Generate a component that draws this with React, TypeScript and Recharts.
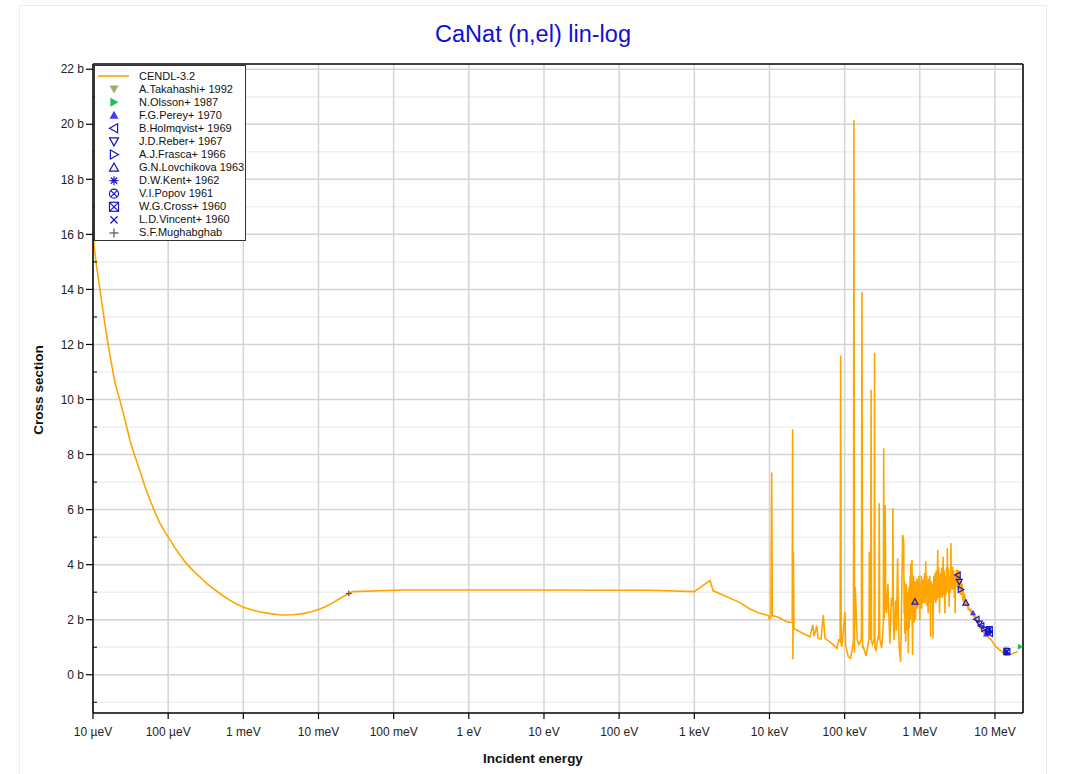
import { ComposedChart, Line, Scatter, XAxis, YAxis, CartesianGrid } from "recharts"

type Pt = [number, number]

// x in eV, y in barns
const X_TICKS = [1e-5, 1e-4, 1e-3, 1e-2, 1e-1, 1, 10, 100, 1e3, 1e4, 1e5, 1e6, 1e7]
const X_TICK_LABELS = [
  "10 µeV", "100 µeV", "1 meV", "10 meV", "100 meV", "1 eV",
  "10 eV", "100 eV", "1 keV", "10 keV", "100 keV", "1 MeV", "10 MeV",
]
const Y_TICKS = [-1, 0, 1, 2, 3, 4, 5, 6, 7, 8, 9, 10, 11, 12, 13, 14, 15, 16, 17, 18, 19, 20, 21, 22]
const Y_MAJOR = [0, 2, 4, 6, 8, 10, 12, 14, 16, 18, 20, 22]
const Y_MINOR = [-1, 1, 3, 5, 7, 9, 11, 13, 15, 17, 19, 21]
const X_DOMAIN: [number, number] = [1e-5, 2.36e7]
const Y_DOMAIN: [number, number] = [-1.39, 22.19]

// CENDL-3.2, thermal + smooth part (eV, b)
const cendlThermal: Pt[] = [
  [1e-5, 16.2], [1.031e-5, 15.6], [1.12e-5, 14.8], [1.239e-5, 14.0], [1.444e-5, 12.7],
  [1.683e-5, 11.6], [1.962e-5, 10.6], [2.29e-5, 9.95], [2.7e-5, 9.2], [3.11e-5, 8.5],
  [3.6e-5, 7.95], [4.22e-5, 7.4], [4.9e-5, 6.85], [5.73e-5, 6.35], [6.7e-5, 5.9],
  [7.79e-5, 5.5], [9.1e-5, 5.18], [1.058e-4, 4.9], [1.24e-4, 4.6], [1.437e-4, 4.35],
  [1.68e-4, 4.1], [1.95e-4, 3.9], [2.27e-4, 3.72], [2.65e-4, 3.55], [3.3e-4, 3.3],
  [4.2e-4, 3.08], [5.3e-4, 2.88], [6.65e-4, 2.7], [8.2e-4, 2.56], [1.0e-3, 2.45],
  [1.28e-3, 2.36], [1.667e-3, 2.28], [2.3e-3, 2.22], [3.0e-3, 2.18], [3.58e-3, 2.17],
  [4.6e-3, 2.18], [6.22e-3, 2.22], [8.0e-3, 2.29], [9.84e-3, 2.36], [1.25e-2, 2.48],
  [1.56e-2, 2.62], [1.95e-2, 2.78], [2.55e-2, 2.96], [2.88e-2, 3.02], [0.133, 3.08],
  [2.6, 3.08], [257, 3.07], [1000, 3.02], [1614, 3.42], [1786, 3.05], [2404, 2.9],
  [4049, 2.62],
]

// resolved resonances (eV, b)
const cendlResonances: Pt[] = [
  [5.5e3, 2.39], [7.47e3, 2.23], [9.64e3, 2.15], [1.0e4, 2.01], [1.047e4, 2.1],
  [1.07e4, 7.35], [1.093e4, 2.15], [1.31e4, 2.09], [1.695e4, 1.93], [1.917e4, 1.9],
  [2.007e4, 1.9], [2.03e4, 8.92], [2.05e4, 0.56], [2.08e4, 4.47], [2.12e4, 1.7],
  [2.19e4, 1.65], [2.82e4, 1.5], [3.46e4, 1.38], [3.76e4, 1.81], [3.92e4, 1.4],
  [4.26e4, 1.77], [4.43e4, 1.32], [4.85e4, 1.3], [5.2e4, 2.17], [5.48e4, 1.32],
  [6.74e4, 1.14], [7.86e4, 0.96], [8.33e4, 1.26], [8.7e4, 1.2], [8.85e4, 11.6],
  [9.0e4, 1.1], [9.2e4, 1.02], [1.01e5, 2.29], [1.03e5, 1.1], [1.04e5, 1.02],
  [1.117e5, 0.65], [1.2e5, 0.6], [1.31e5, 1.2], [1.33e5, 20.15], [1.35e5, 0.8],
  [1.385e5, 3.2], [1.47e5, 1.26], [1.55e5, 1.1], [1.67e5, 1.3], [1.7e5, 13.9],
  [1.73e5, 1.0], [1.77e5, 1.02], [1.93e5, 0.68], [2.11e5, 1.3], [2.13e5, 4.47],
  [2.16e5, 1.3], [2.22e5, 1.3], [2.25e5, 10.35], [2.28e5, 1.2], [2.35e5, 1.1],
  [2.47e5, 1.3], [2.5e5, 11.7], [2.53e5, 1.0], [2.61e5, 0.9], [2.85e5, 1.5],
  [2.88e5, 6.23], [2.93e5, 1.3], [3.11e5, 0.97], [3.27e5, 1.8], [3.31e5, 8.23],
  [3.35e5, 2.0], [3.4e5, 3.0], [3.46e5, 6.17], [3.53e5, 2.4], [3.62e5, 2.23],
  [3.76e5, 3.3], [4.0e5, 1.14], [4.19e5, 2.8], [4.33e5, 2.5], [4.39e5, 6.05],
  [4.44e5, 2.0], [4.56e5, 1.26], [4.73e5, 2.7], [4.88e5, 1.6], [5.07e5, 4.23],
  [5.19e5, 2.0], [5.32e5, 1.0], [5.55e5, 0.47], [5.73e5, 2.6], [5.9e5, 5.08],
  [6.09e5, 4.9],
]

// unresolved / continuum (MeV, b)
const cendlContinuum: Pt[] = [
  [0.62, 2.2], [0.626, 3.4], [0.631, 1.5], [0.637, 2.6], [0.643, 3.0], [0.649, 1.2],
  [0.655, 1.9], [0.661, 3.3], [0.667, 2.96], [0.673, 1.8], [0.679, 1.6], [0.686, 3.0],
  [0.692, 2.4], [0.699, 1.4], [0.705, 0.78], [0.712, 2.6], [0.718, 3.2], [0.725, 1.7],
  [0.731, 2.1], [0.738, 3.3], [0.745, 3.6], [0.752, 2.0], [0.759, 4.05], [0.766, 2.6],
  [0.773, 2.3], [0.78, 3.5], [0.787, 4.17], [0.795, 1.8], [0.802, 0.72], [0.81, 2.9],
  [0.817, 2.5], [0.825, 3.6], [0.832, 3.1], [0.84, 1.9], [0.847, 2.2], [0.855, 3.4],
  [0.863, 2.96], [0.871, 2.3], [0.879, 2.0], [0.887, 3.4], [0.895, 3.3], [0.904, 2.4],
  [0.912, 2.6], [0.92, 3.5], [0.929, 2.4], [0.938, 2.9], [0.946, 3.5], [0.955, 2.5],
  [0.964, 2.7], [0.973, 3.6], [0.982, 3.2], [0.991, 2.5], [1.0, 1.99], [1.009, 3.1],
  [1.018, 2.9], [1.028, 2.5], [1.037, 3.3], [1.046, 3.6], [1.056, 2.4], [1.066, 2.8],
  [1.076, 3.0], [1.086, 2.6], [1.096, 3.44], [1.106, 2.9], [1.116, 2.6], [1.127, 3.5],
  [1.137, 3.1], [1.148, 2.7], [1.158, 3.7], [1.169, 2.6], [1.179, 2.8], [1.19, 3.4],
  [1.201, 4.11], [1.212, 2.9], [1.223, 3.0], [1.235, 3.6], [1.246, 2.5], [1.258, 2.9],
  [1.269, 3.3], [1.281, 2.7], [1.293, 2.23], [1.305, 3.5], [1.317, 3.2], [1.329, 2.6],
  [1.341, 2.7], [1.354, 3.6], [1.366, 3.4], [1.378, 2.5], [1.391, 1.38], [1.404, 3.1],
  [1.417, 2.8], [1.43, 3.4], [1.443, 2.6], [1.457, 2.9], [1.47, 3.3], [1.484, 2.4],
  [1.497, 1.32], [1.511, 2.8], [1.525, 3.0], [1.539, 3.6], [1.553, 3.5], [1.568, 2.7],
  [1.582, 2.96], [1.597, 3.7], [1.611, 3.4], [1.626, 2.6], [1.641, 2.8], [1.656, 3.8],
  [1.671, 3.6], [1.687, 2.7], [1.702, 3.0], [1.718, 3.9], [1.734, 4.53], [1.75, 2.8],
  [1.766, 3.1], [1.783, 3.9], [1.799, 3.6], [1.816, 2.9], [1.832, 2.23], [1.849, 3.5],
  [1.866, 3.3], [1.883, 2.8], [1.9, 3.7], [1.918, 3.2], [1.935, 2.9], [1.953, 3.9],
  [1.971, 3.6], [1.99, 2.8], [2.008, 3.2], [2.027, 3.8], [2.045, 4.29], [2.064, 2.9],
  [2.083, 3.1], [2.102, 3.8], [2.121, 3.5], [2.141, 2.8], [2.16, 2.23], [2.18, 3.6],
  [2.2, 3.4], [2.221, 2.9], [2.241, 3.0], [2.262, 3.9], [2.283, 3.8], [2.304, 3.0],
  [2.325, 4.6], [2.347, 3.1], [2.368, 3.2], [2.39, 3.9], [2.412, 3.6], [2.434, 2.9],
  [2.457, 2.47], [2.48, 3.6], [2.502, 3.5], [2.525, 3.0], [2.548, 3.0], [2.572, 3.9],
  [2.595, 4.79], [2.619, 3.1], [2.643, 3.4], [2.668, 3.9], [2.692, 3.8], [2.717, 3.1],
  [2.742, 3.93], [2.768, 3.3], [2.793, 3.1], [2.819, 3.8], [2.845, 3.6], [2.871, 3.0],
  [2.898, 2.8], [2.924, 3.6], [2.951, 2.23], [2.978, 3.5], [3.006, 3.4], [3.034, 3.2],
  [3.062, 3.81], [3.09, 3.3], [3.118, 3.2], [3.147, 3.8], [3.176, 3.6], [3.205, 3.1],
  [3.235, 3.3], [3.265, 3.8], [3.295, 3.69], [3.325, 3.2], [3.356, 3.1], [3.387, 3.6],
  [3.418, 3.5], [3.45, 3.0], [3.481, 2.9], [3.514, 3.4], [3.546, 3.3], [3.579, 2.9],
  [3.612, 3.0], [3.645, 3.3], [3.679, 3.2], [3.713, 2.8], [3.747, 2.7], [3.781, 3.1],
  [3.816, 3.0], [3.851, 2.7], [3.887, 2.6], [3.923, 2.9], [3.959, 2.9], [3.995, 2.6],
  [4.032, 2.5], [4.1, 2.75], [4.19, 2.5], [4.3, 2.6], [4.41, 2.35], [4.52, 2.45],
  [4.64, 2.3], [4.76, 2.4], [4.89, 2.2], [5.01, 2.3], [5.13, 2.15], [5.27, 2.2],
  [5.41, 2.05], [5.55, 2.1], [5.68, 1.95], [5.84, 2.0], [5.99, 1.8], [6.15, 1.85],
  [6.3, 1.72], [6.47, 1.75], [6.64, 1.6], [6.88, 1.6], [7.13, 1.5], [7.43, 1.5],
  [7.74, 1.4], [8.02, 1.42], [8.31, 1.33], [8.65, 1.3], [9.02, 1.25], [9.5, 1.15],
  [10.0, 1.05], [10.5, 1.0], [11.3, 0.92], [12.3, 0.84], [13.0, 0.78], [13.6, 0.73],
  [14.3, 0.74], [15.0, 0.72], [16.0, 0.74], [17.5, 0.78], [19.0, 0.82], [20.0, 0.84],
]

// EXFOR points (eV, b)
const takahashi: Pt[] = [[1.41e7, 0.93]]
const olsson: Pt[] = [[2.17e7, 1.02]]
const perey: Pt[] = [[5.1e6, 2.25], [7.6e6, 1.48]]
const holmqvist: Pt[] = [[3.2e6, 3.62], [5.7e6, 2.02], [6.6e6, 1.78], [7.9e6, 1.62], [8.6e6, 1.5]]
const reber: Pt[] = [[3.35e6, 3.38], [6.2e6, 1.86]]
const frasca: Pt[] = [[3.5e6, 3.1], [7.2e6, 1.68]]
const lovchikova: Pt[] = [[8.6e5, 2.65], [4.1e6, 2.62]]
const kent: Pt[] = [[1.4e7, 0.8]]
const popov: Pt[] = [[8.1e6, 1.56]]
const cross: Pt[] = [[8.4e6, 1.64], [1.44e7, 0.84]]
const vincent: Pt[] = [[1.41e7, 0.82]]
const mughabghab: Pt[] = [[0.0253, 2.95]]

const toRows = (pts: Pt[], scale = 1) => pts.map(([e, s]) => ({ e: e * scale, s }))

const cendl = [
  ...toRows(cendlThermal),
  ...toRows(cendlResonances),
  ...toRows(cendlContinuum, 1e6),
]

const ORANGE = "#FFA500"
const NAVY = "#1515c8"

const EXP = [
  { name: "A.Takahashi+ 1992", kind: "tdownF", color: "#aca86a", data: takahashi },
  { name: "N.Olsson+ 1987", kind: "trightF", color: "#1fbf55", data: olsson },
  { name: "F.G.Perey+ 1970", kind: "tupF", color: "#3a3aff", data: perey },
  { name: "B.Holmqvist+ 1969", kind: "tleft", color: NAVY, data: holmqvist },
  { name: "J.D.Reber+ 1967", kind: "tdown", color: NAVY, data: reber },
  { name: "A.J.Frasca+ 1966", kind: "tright", color: NAVY, data: frasca },
  { name: "G.N.Lovchikova 1963", kind: "tup", color: NAVY, data: lovchikova },
  { name: "D.W.Kent+ 1962", kind: "star", color: NAVY, data: kent },
  { name: "V.I.Popov 1961", kind: "circlex", color: NAVY, data: popov },
  { name: "W.G.Cross+ 1960", kind: "squarex", color: NAVY, data: cross },
  { name: "L.D.Vincent+ 1960", kind: "x", color: NAVY, data: vincent },
  { name: "S.F.Mughabghab", kind: "plus", color: "#555555", data: mughabghab },
]

function Marker({ kind, color, cx, cy, s = 4.5 }: { kind: string; color: string; cx: number; cy: number; s?: number }) {
  const sw = 1.2
  const open = { fill: "none", stroke: color, strokeWidth: sw }
  switch (kind) {
    case "tdownF":
      return <polygon points={`${cx - s},${cy - s * 0.8} ${cx + s},${cy - s * 0.8} ${cx},${cy + s}`} fill={color} />
    case "trightF":
      return <polygon points={`${cx - s * 0.8},${cy - s} ${cx - s * 0.8},${cy + s} ${cx + s},${cy}`} fill={color} />
    case "tupF":
      return <polygon points={`${cx - s},${cy + s * 0.8} ${cx + s},${cy + s * 0.8} ${cx},${cy - s}`} fill={color} />
    case "tleft":
      return <polygon points={`${cx + s * 0.8},${cy - s} ${cx + s * 0.8},${cy + s} ${cx - s},${cy}`} {...open} />
    case "tdown":
      return <polygon points={`${cx - s},${cy - s * 0.8} ${cx + s},${cy - s * 0.8} ${cx},${cy + s}`} {...open} />
    case "tright":
      return <polygon points={`${cx - s * 0.8},${cy - s} ${cx - s * 0.8},${cy + s} ${cx + s},${cy}`} {...open} />
    case "tup":
      return <polygon points={`${cx - s},${cy + s * 0.8} ${cx + s},${cy + s * 0.8} ${cx},${cy - s}`} {...open} />
    case "star":
      return (
        <g stroke={color} strokeWidth={sw}>
          <line x1={cx - s} y1={cy} x2={cx + s} y2={cy} />
          <line x1={cx} y1={cy - s} x2={cx} y2={cy + s} />
          <line x1={cx - s * 0.7} y1={cy - s * 0.7} x2={cx + s * 0.7} y2={cy + s * 0.7} />
          <line x1={cx - s * 0.7} y1={cy + s * 0.7} x2={cx + s * 0.7} y2={cy - s * 0.7} />
        </g>
      )
    case "circlex":
      return (
        <g {...open}>
          <circle cx={cx} cy={cy} r={s} />
          <line x1={cx - s * 0.7} y1={cy - s * 0.7} x2={cx + s * 0.7} y2={cy + s * 0.7} />
          <line x1={cx - s * 0.7} y1={cy + s * 0.7} x2={cx + s * 0.7} y2={cy - s * 0.7} />
        </g>
      )
    case "squarex":
      return (
        <g {...open}>
          <rect x={cx - s} y={cy - s} width={2 * s} height={2 * s} />
          <line x1={cx - s} y1={cy - s} x2={cx + s} y2={cy + s} />
          <line x1={cx - s} y1={cy + s} x2={cx + s} y2={cy - s} />
        </g>
      )
    case "x":
      return (
        <g stroke={color} strokeWidth={sw}>
          <line x1={cx - s * 0.8} y1={cy - s * 0.8} x2={cx + s * 0.8} y2={cy + s * 0.8} />
          <line x1={cx - s * 0.8} y1={cy + s * 0.8} x2={cx + s * 0.8} y2={cy - s * 0.8} />
        </g>
      )
    default:
      return (
        <g stroke={color} strokeWidth={sw}>
          <line x1={cx - s} y1={cy} x2={cx + s} y2={cy} />
          <line x1={cx} y1={cy - s} x2={cx} y2={cy + s} />
        </g>
      )
  }
}

// left axis: labelled outward ticks at even values, short inward ticks at odd ones
function YTick(props: any) {
  const { x, y, payload } = props
  const v = payload.value as number
  if (v % 2 !== 0) {
    return <line x1={x} x2={x + 4} y1={y} y2={y} stroke="#000" strokeWidth={1} />
  }
  return (
    <g>
      <line x1={x - 7} x2={x} y1={y} y2={y} stroke="#000" strokeWidth={1.2} />
      <text x={x - 9} y={y} dy={4.2} textAnchor="end" fontSize={12} fill="#222">
        {`${v} b`}
      </text>
    </g>
  )
}

export default function App() {
  const font = "Arial, 'Liberation Sans', Helvetica, sans-serif"
  return (
    <div
      style={{
        position: "absolute",
        left: 0,
        top: 0,
        width: 1071,
        height: 774,
        overflow: "hidden",
        background: "#fff",
        fontFamily: font,
      }}
    >
      <div
        style={{
          position: "absolute",
          left: 19,
          top: 5,
          width: 1026,
          height: 820,
          border: "1px solid #ececec",
        }}
      />
      <div
        style={{
          position: "absolute",
          left: 19,
          width: 1028,
          top: 22,
          textAlign: "center",
          fontSize: 23.5,
          lineHeight: "24px",
          color: "#1010d0",
        }}
      >
        CaNat (n,el) lin-log
      </div>

      <div style={{ position: "absolute", left: 0, top: 0 }}>
        <ComposedChart width={1071} height={774} margin={{ top: 64, right: 48, bottom: 31, left: 43 }}>
          <CartesianGrid
            vertical={false}
            horizontalValues={Y_MINOR}
            stroke="#efefef"
            strokeWidth={1.5}
          />
          <CartesianGrid
            horizontalValues={Y_MAJOR}
            stroke="#d4d4d4"
            strokeWidth={1.5}
          />
          <XAxis
            dataKey="e"
            type="number"
            scale="log"
            domain={X_DOMAIN}
            allowDataOverflow
            ticks={X_TICKS}
            interval={0}
            height={30}
            tickFormatter={(_v: number, i: number) => X_TICK_LABELS[i]}
            tick={{ fontSize: 12, fill: "#222", fontFamily: font }}
            tickSize={6}
            tickMargin={8}
            axisLine={{ stroke: "#000", strokeWidth: 1.5 }}
            tickLine={{ stroke: "#000", strokeWidth: 1.2 }}
          />
          <XAxis
            xAxisId="top"
            dataKey="e"
            orientation="top"
            mirror
            height={1}
            type="number"
            scale="log"
            domain={X_DOMAIN}
            allowDataOverflow
            ticks={X_TICKS}
            interval={0}
            tick={false}
            tickSize={6}
            axisLine={{ stroke: "#000", strokeWidth: 1.5 }}
            tickLine={{ stroke: "#000", strokeWidth: 1 }}
          />
          <YAxis
            type="number"
            domain={Y_DOMAIN}
            allowDataOverflow
            ticks={Y_TICKS}
            interval={0}
            width={50}
            tick={<YTick />}
            tickSize={0}
            tickMargin={0}
            tickLine={false}
            axisLine={{ stroke: "#000", strokeWidth: 1.5 }}
          />
          <YAxis
            yAxisId="right"
            orientation="right"
            mirror
            width={1}
            type="number"
            domain={Y_DOMAIN}
            allowDataOverflow
            ticks={Y_TICKS}
            interval={0}
            tick={false}
            tickSize={4}
            axisLine={{ stroke: "#000", strokeWidth: 1.5 }}
            tickLine={{ stroke: "#000", strokeWidth: 1 }}
          />
          {EXP.map((sr) => (
            <Scatter
              key={sr.name}
              name={sr.name}
              data={toRows(sr.data)}
              dataKey="s"
              isAnimationActive={false}
              shape={(p: any) => <Marker kind={sr.kind} color={sr.color} cx={p.cx} cy={p.cy} s={3} />}
            />
          ))}
          <Line
            data={cendl}
            dataKey="s"
            type="linear"
            stroke={ORANGE}
            strokeWidth={1.6}
            dot={false}
            isAnimationActive={false}
          />
        </ComposedChart>
      </div>

      {/* legend */}
      <div
        style={{
          position: "absolute",
          left: 94,
          top: 65,
          width: 152,
          height: 176,
          background: "#fff",
          border: "1px solid #333",
          boxSizing: "border-box",
        }}
      >
        <svg width={150} height={174} style={{ position: "absolute", left: 0, top: 0 }}>
          <line x1={3} x2={34} y1={10} y2={10} stroke={ORANGE} strokeWidth={1.6} />
          {EXP.map((sr, i) => (
            <Marker key={sr.name} kind={sr.kind} color={sr.color} cx={19} cy={10 + (i + 1) * 13.08} />
          ))}
        </svg>
        {["CENDL-3.2", ...EXP.map((sr) => sr.name)].map((name, i) => (
          <div
            key={name}
            style={{
              position: "absolute",
              left: 44,
              top: 10 + i * 13.08 - 6.5,
              height: 13,
              lineHeight: "13px",
              fontSize: 11,
              color: "#111",
              whiteSpace: "nowrap",
            }}
          >
            {name}
          </div>
        ))}
      </div>

      <div
        style={{
          position: "absolute",
          left: 19,
          width: 1028,
          top: 752,
          textAlign: "center",
          fontSize: 13.5,
          lineHeight: "13.5px",
          fontWeight: "bold",
          color: "#111",
        }}
      >
        Incident energy
      </div>
      <div
        style={{
          position: "absolute",
          left: 38.5,
          top: 390,
          transform: "translate(-50%, -50%) rotate(-90deg)",
          fontSize: 13.5,
          lineHeight: "13.5px",
          fontWeight: "bold",
          color: "#111",
          whiteSpace: "nowrap",
        }}
      >
        Cross section
      </div>
    </div>
  )
}
